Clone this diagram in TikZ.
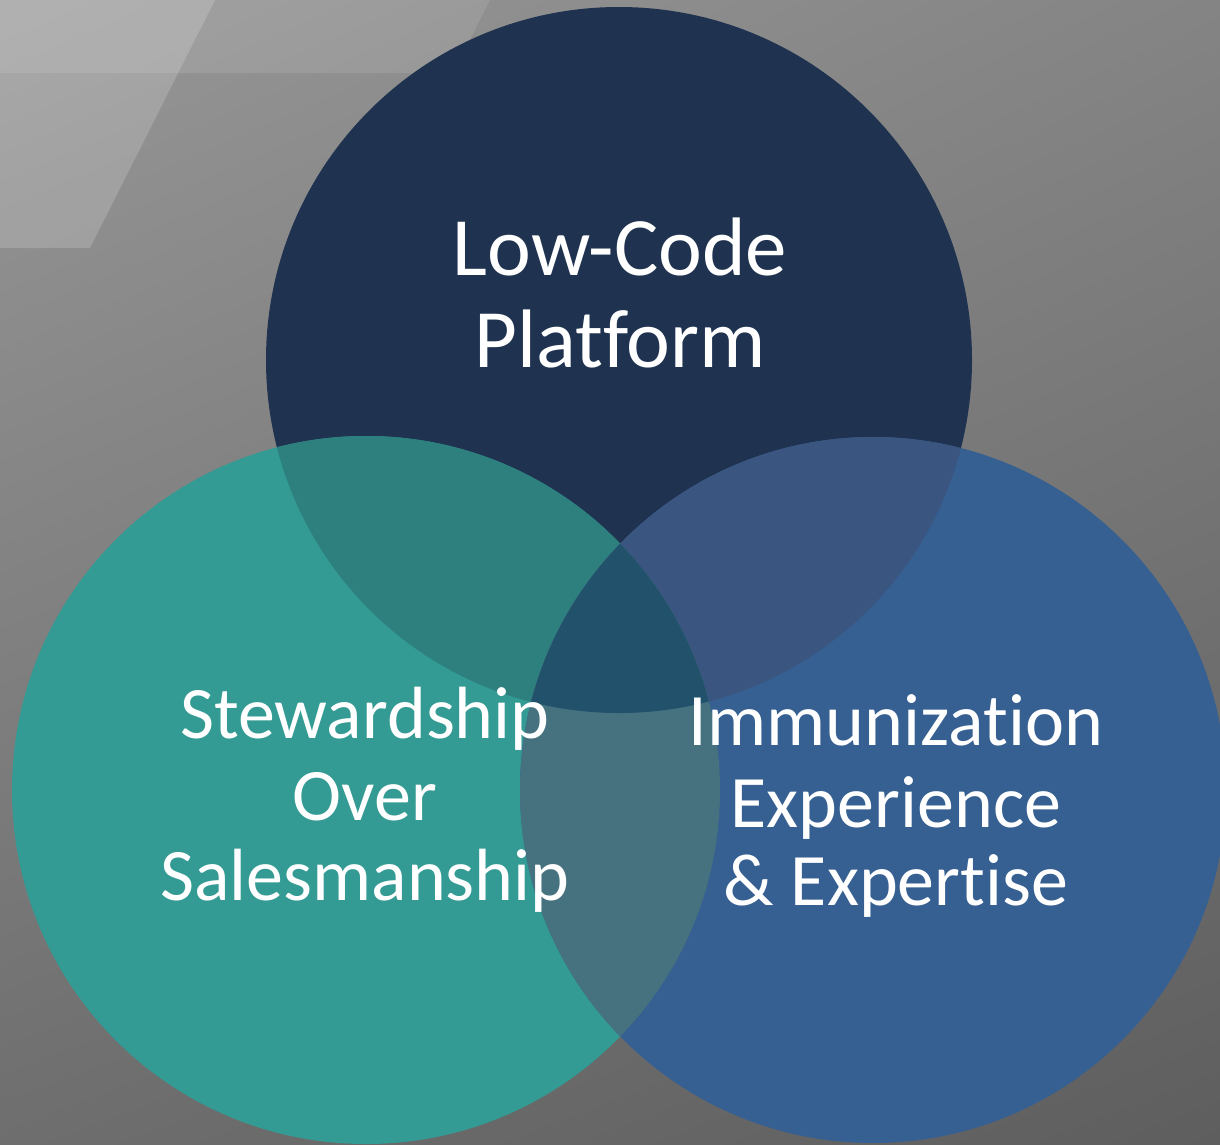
\documentclass[tikz,border=0pt]{standalone}
\usepackage{fontspec}
\setmainfont{Carlito}[Ligatures=NoCommon]
\usetikzlibrary{shadings}
\definecolor{cTop}{HTML}{1F3350}
\definecolor{cLeft}{HTML}{339B94}
\definecolor{cRight}{HTML}{366091}
\definecolor{cTL}{HTML}{2E807F}
\definecolor{cTR}{HTML}{3A5680}
\definecolor{cLR}{HTML}{467280}
\definecolor{cMid}{HTML}{21516B}
\definecolor{bgUL}{HTML}{979797}
\definecolor{bgUR}{HTML}{848484}
\definecolor{bgLL}{HTML}{6E6E6E}
\definecolor{bgLR}{HTML}{5E5E5E}
\tikzset{
  bigtext/.style={text=white, anchor=base, inner sep=0pt, font=\fontsize{83}{92}\selectfont},
  smalltext/.style={text=white, anchor=base, inner sep=0pt, font=\fontsize{74}{81}\selectfont},
}
\begin{document}
\begin{tikzpicture}[x=1pt,y=-1pt]
\useasboundingbox (0,0) rectangle (1220,1144);
\clip (0,0) rectangle (1220,1144);
% background
\shade[upper left=bgUL, upper right=bgUR, lower left=bgLL, lower right=bgLR] (0,0) rectangle (1220,1144);
\fill[white, opacity=0.1] (0,0) -- (490,0) -- (453,73) -- (0,73) -- cycle;
\fill[white, opacity=0.17] (0,0) -- (215,0) -- (90,248) -- (0,248) -- cycle;
% circle centres
\coordinate (cT) at (619,360);
\coordinate (cL) at (366,790);
\coordinate (cR) at (873,790);
% circles
\fill[cTop] (cT) circle[radius=353];
\fill[cLeft] (cL) circle[radius=354];
\fill[cRight] (cR) circle[radius=353];
% pairwise overlaps
\begin{scope}
  \clip (cT) circle[radius=353];
  \fill[cTL] (cL) circle[radius=354];
\end{scope}
\begin{scope}
  \clip (cT) circle[radius=353];
  \fill[cTR] (cR) circle[radius=353];
\end{scope}
\begin{scope}
  \clip (cL) circle[radius=354];
  \fill[cLR] (cR) circle[radius=353];
\end{scope}
\begin{scope}
  \clip (cT) circle[radius=353];
  \clip (cL) circle[radius=354];
  \fill[cMid] (cR) circle[radius=353];
\end{scope}
% labels
\node[bigtext] (t1) at (620,275) {Low-Code};
\node[bigtext] (t2) at (620,367) {Platform};
\node[smalltext] (l1) at (365,738) {Stewardship};
\node[smalltext] (l2) at (365,820) {Over};
\node[smalltext] (l3) at (365,900) {Salesmanship};
\node[smalltext] (r1) at (896,745) {Immunization};
\node[smalltext] (r2) at (896,827) {Experience};
\node[smalltext] (r3) at (896,905) {\& Expertise};
\end{tikzpicture}
\end{document}
